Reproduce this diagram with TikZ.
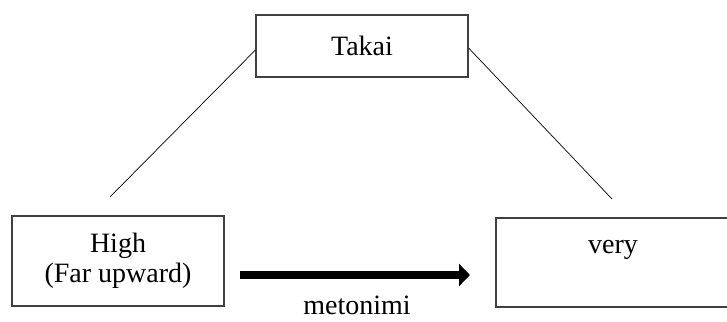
\documentclass[tikz,border=0pt]{standalone}
\usepackage{fontspec}
\setmainfont{Liberation Serif}
\usetikzlibrary{positioning}
\usetikzlibrary{arrows.meta}

\begin{document}
\begin{tikzpicture}[x=1pt,y=-1pt,
  every node/.style={font=\fontsize{28}{30}\selectfont},
  kotak/.style={draw=black!75, line width=1.2pt, minimum width=212pt, inner sep=0pt},
  garis/.style={black, line width=0.7pt}]

\useasboundingbox (0,0) rectangle (727,321);

% kotak atas
\node[kotak, minimum height=62pt] (takai) at (362,46) {Takai};

% kotak bawah
\node[kotak, minimum height=90pt, align=center] (high) at (118,261) {High\\(Far upward)};
\draw[black!75, line width=1.2pt] (496,218) rectangle (732,307);
\node[anchor=base, inner sep=1pt] (very) at (613,253) {very};

% garis
\coordinate (kiri) at (110,197);
\coordinate (kanan) at (612,199);
\draw[garis] (takai.west) ++(0,4) -- (kiri);
\draw[garis] (takai.east) ++(0,2) -- (kanan);

% panah
\coordinate (mulai) at (240,275);
\coordinate (akhir) at (470,275);
\draw[line width=8pt, -{Triangle[length=11pt, width=22pt]}] (mulai) -- (akhir);
\node[anchor=base, inner sep=1pt] (meto) at (357,314) {metonimi};

\end{tikzpicture}
\end{document}
